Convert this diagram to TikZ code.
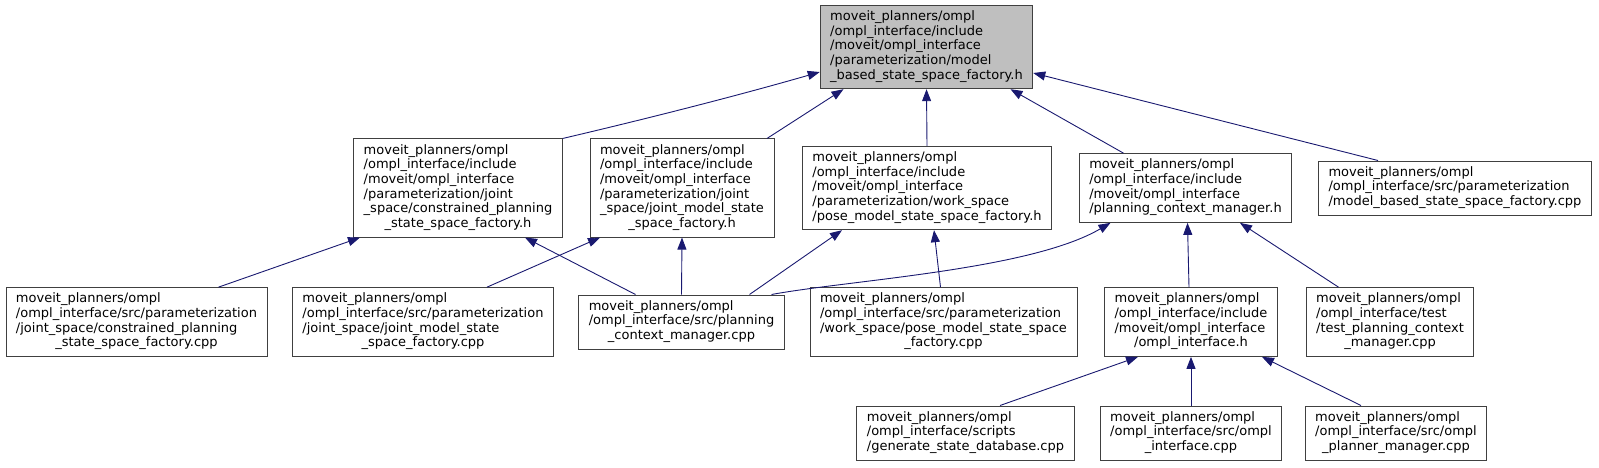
\documentclass[tikz,border=0pt]{standalone}
\usepackage{fontspec}
\setmainfont{DejaVu Sans}
\usetikzlibrary{arrows.meta,calc}
\definecolor{edgecol}{HTML}{191970}
\definecolor{boxline}{HTML}{404040}
\definecolor{rootfill}{HTML}{BFBFBF}
\newcommand{\lbl}[2]{\begin{tabular}{@{}l@{}}#1\\\multicolumn{1}{@{}c@{}}{#2}\end{tabular}}
\begin{document}
\begin{tikzpicture}[x=1pt,y=-1pt,
  box/.style={draw=boxline, line width=0.9pt, fill=white, inner xsep=10pt, inner ysep=5pt,
    font=\fontsize{13}{14.7}\selectfont, anchor=center},
  rootbox/.style={box, fill=rootfill},
  arr/.style={draw=edgecol, line width=0.9pt, -{Triangle[length=12pt,width=9pt]}}]
\useasboundingbox (0,0) rectangle (1599,467);

\node[rootbox] (root) at (926.5,47) {\lbl{moveit\_planners/ompl\\/ompl\_interface/include\\/moveit/ompl\_interface\\/parameterization/model}{\_based\_state\_space\_factory.h}};

\node[box] (N2) at (458,188) {\lbl{moveit\_planners/ompl\\/ompl\_interface/include\\/moveit/ompl\_interface\\/parameterization/joint\\\_space/constrained\_planning}{\_state\_space\_factory.h}};
\node[box] (N3) at (682,188) {\lbl{moveit\_planners/ompl\\/ompl\_interface/include\\/moveit/ompl\_interface\\/parameterization/joint\\\_space/joint\_model\_state}{\_space\_factory.h}};
\node[box] (N4) at (927,188) {\lbl{moveit\_planners/ompl\\/ompl\_interface/include\\/moveit/ompl\_interface\\/parameterization/work\_space}{/pose\_model\_state\_space\_factory.h}};
\node[box] (N5) at (1185.5,188) {\lbl{moveit\_planners/ompl\\/ompl\_interface/include\\/moveit/ompl\_interface}{/planning\_context\_manager.h}};
\node[box] (N6) at (1455,188) {\lbl{moveit\_planners/ompl\\/ompl\_interface/src/parameterization}{/model\_based\_state\_space\_factory.cpp}};

\node[box] (N7) at (136.5,322) {\lbl{moveit\_planners/ompl\\/ompl\_interface/src/parameterization\\/joint\_space/constrained\_planning}{\_state\_space\_factory.cpp}};
\node[box] (N8) at (423,322) {\lbl{moveit\_planners/ompl\\/ompl\_interface/src/parameterization\\/joint\_space/joint\_model\_state}{\_space\_factory.cpp}};
\node[box] (N9) at (681.5,322) {\lbl{moveit\_planners/ompl\\/ompl\_interface/src/planning}{\_context\_manager.cpp}};
\node[box] (N10) at (943.5,322) {\lbl{moveit\_planners/ompl\\/ompl\_interface/src/parameterization\\/work\_space/pose\_model\_state\_space}{\_factory.cpp}};
\node[box] (N11) at (1191,322) {\lbl{moveit\_planners/ompl\\/ompl\_interface/include\\/moveit/ompl\_interface}{/ompl\_interface.h}};
\node[box] (N12) at (1390,322) {\lbl{moveit\_planners/ompl\\/ompl\_interface/test\\/test\_planning\_context}{\_manager.cpp}};

\node[box] (N13) at (965.5,433) {\lbl{moveit\_planners/ompl\\/ompl\_interface/scripts}{/generate\_state\_database.cpp}};
\node[box] (N14) at (1191,433) {\lbl{moveit\_planners/ompl\\/ompl\_interface/src/ompl}{\_interface.cpp}};
\node[box] (N15) at (1396,433) {\lbl{moveit\_planners/ompl\\/ompl\_interface/src/ompl}{\_planner\_manager.cpp}};

\draw[arr] (N2.north east) .. controls (650,118) and (740,95) .. ($(root.west)+(0,25)$);
\draw[arr] ($(N3.north)+(85,0)$) -- ($(root.south)+(-83,0)$);
\draw[arr] (N4.north) -- (root.south);
\draw[arr] ($(N5.north)+(-62,0)$) -- ($(root.south)+(84,0)$);
\draw[arr] ($(N6.north)+(-77,0)$) -- ($(root.east)+(0,26)$);

\draw[arr] ($(N7.north)+(82,0)$) -- ($(N2.south)+(-98,0)$);
\draw[arr] ($(N8.north)+(64,0)$) -- ($(N3.south)+(-82,0)$);
\draw[arr] ($(N9.north)+(-46,0)$) -- ($(N2.south)+(67,0)$);
\draw[arr] (N9.north) -- (N3.south);
\draw[arr] ($(N9.north)+(68,0)$) -- ($(N4.south)+(-85,0)$);
\draw[arr] ($(N9.north)+(90,0)$) .. controls (850,280) and (1030,270) .. ($(N5.south)+(-75,0)$);
\draw[arr] ($(N10.north)+(-3,0)$) -- ($(N4.south)+(7,0)$);
\draw[arr] ($(N11.north)+(-2,0)$) -- ($(N5.south)+(2,0)$);
\draw[arr] ($(N12.north)+(-51.5,0)$) -- ($(N5.south)+(54.5,0)$);

\draw[arr] ($(N13.north)+(34.5,0)$) -- ($(N11.south)+(-53,0)$);
\draw[arr] (N14.north) -- (N11.south);
\draw[arr] ($(N15.north)+(-35,0)$) -- ($(N11.south)+(71,0)$);
\end{tikzpicture}
\end{document}
